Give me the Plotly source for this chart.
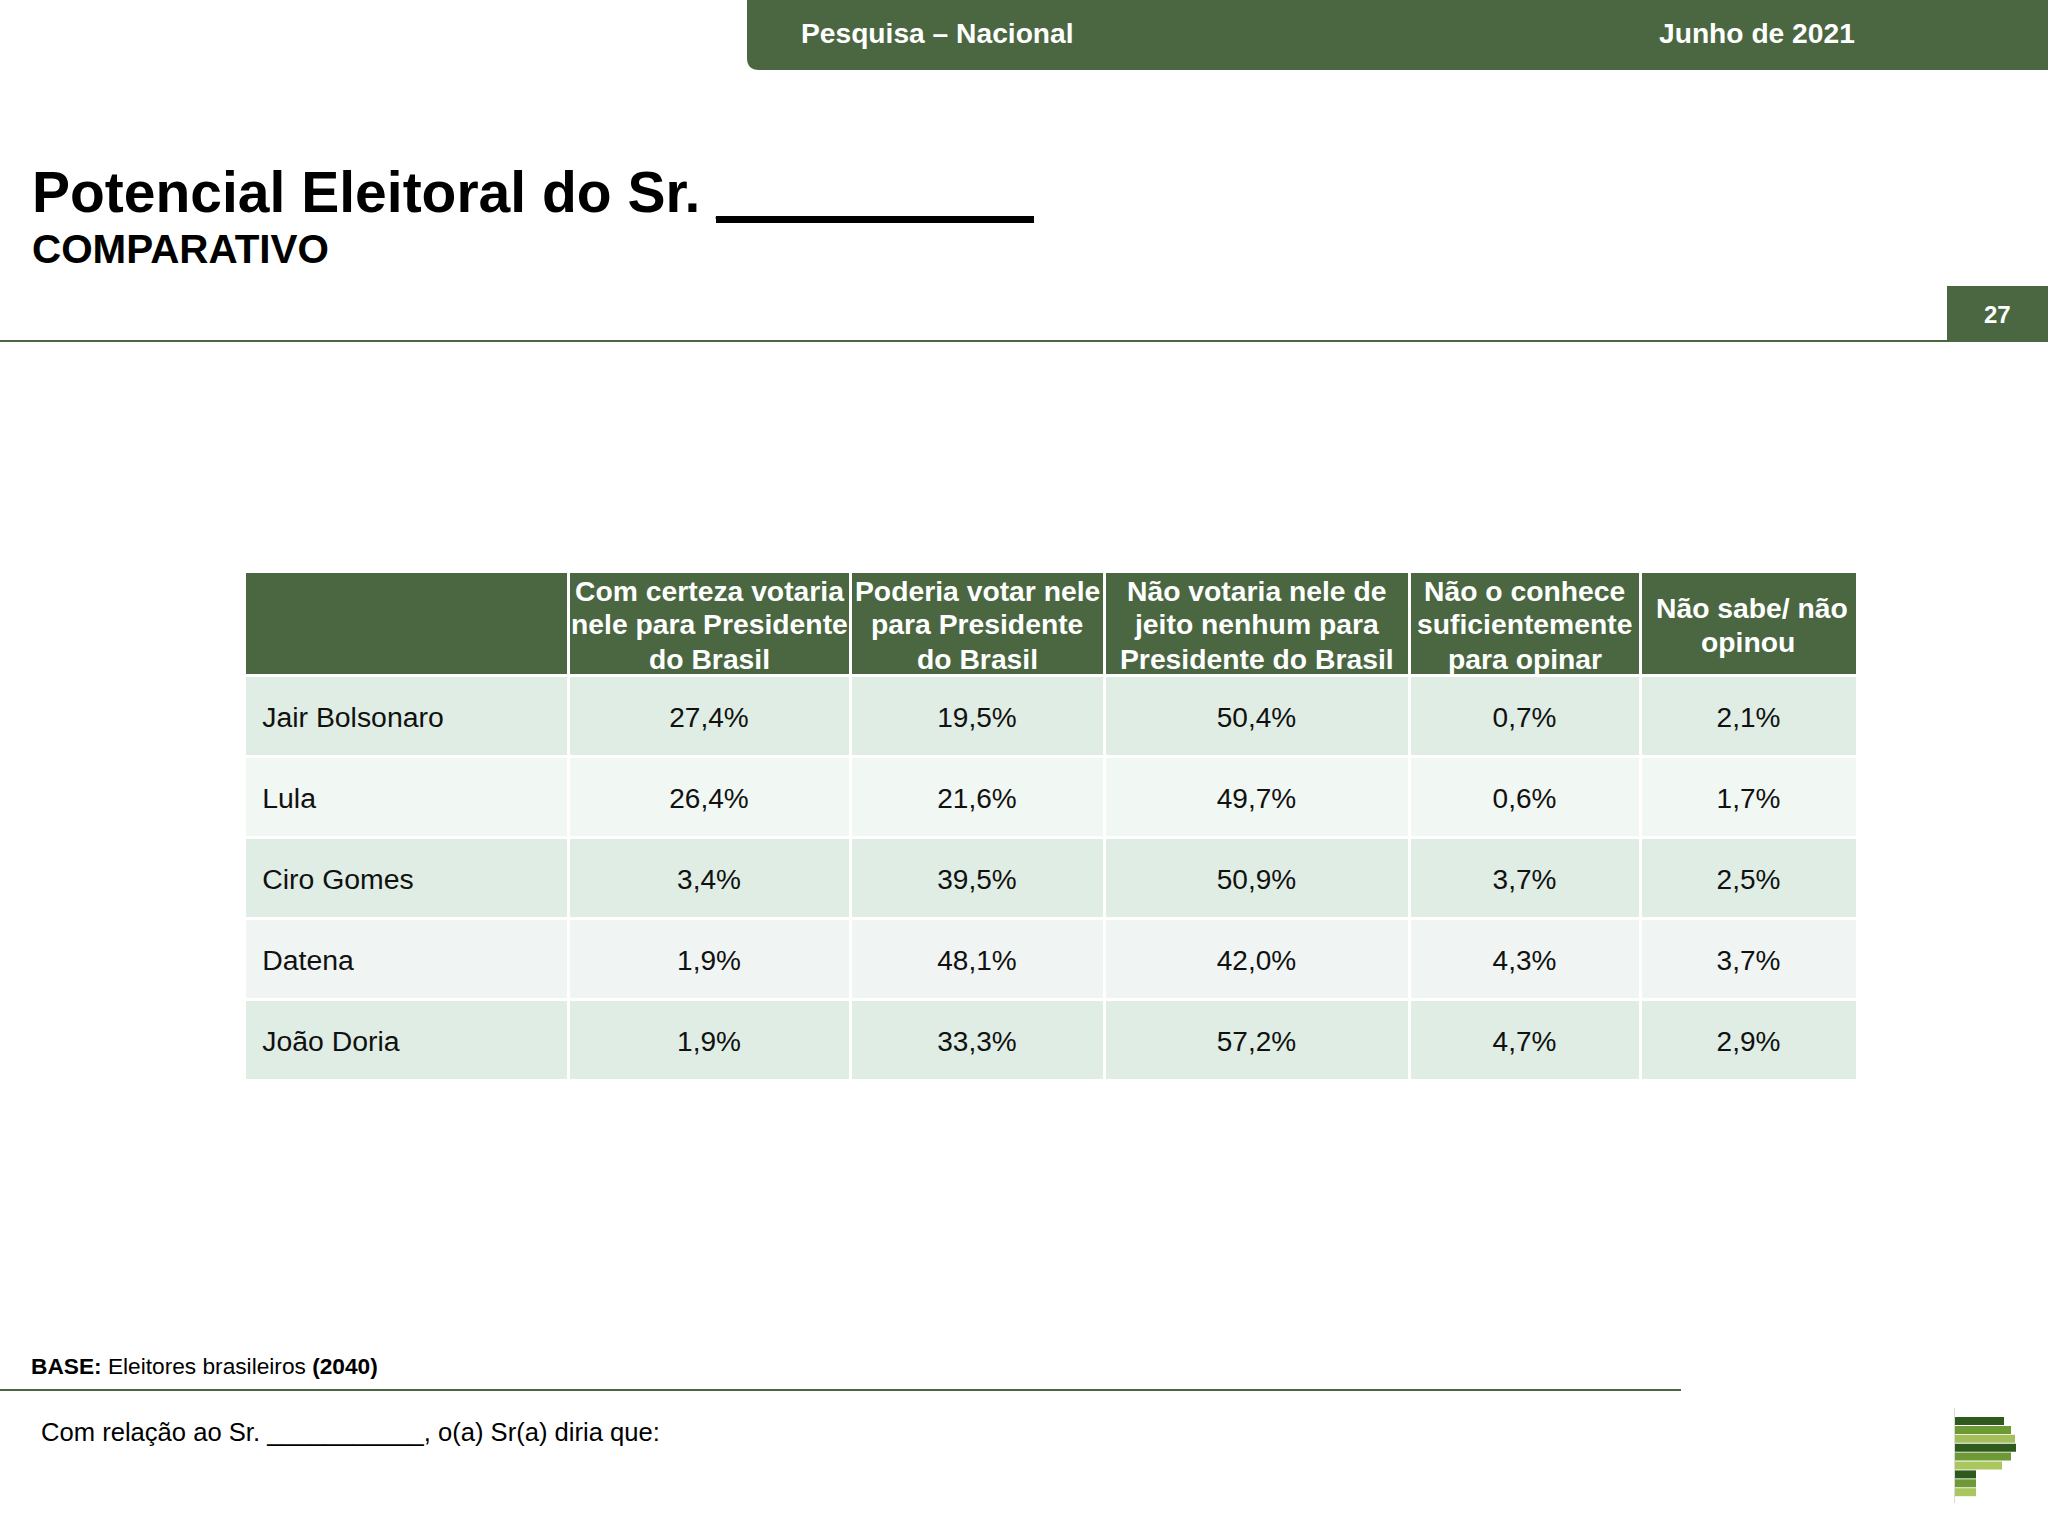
import plotly.graph_objects as go

candidates = ["Jair Bolsonaro", "Lula", "Ciro Gomes", "Datena", "João Doria"]
certeza = ["27,4%", "26,4%", "3,4%", "1,9%", "1,9%"]
poderia = ["19,5%", "21,6%", "39,5%", "48,1%", "33,3%"]
nao_votaria = ["50,4%", "49,7%", "50,9%", "42,0%", "57,2%"]
nao_conhece = ["0,7%", "0,6%", "3,7%", "4,3%", "4,7%"]
nao_sabe = ["2,1%", "1,7%", "2,5%", "3,7%", "2,9%"]
headers = [
    [],
    ["Com certeza votaria", "nele para Presidente", "do Brasil"],
    ["Poderia votar nele", "para Presidente", "do Brasil"],
    ["Não votaria nele de", "jeito nenhum para", "Presidente do Brasil"],
    ["Não o conhece", "suficientemente", "para opinar"],
    ["Não sabe/ não", "opinou"],
]
col_edges = [244, 568, 850, 1104, 1409, 1640, 1857]
row_fills = ["#DFEDE4", "#F1F7F2", "#DFEDE4", "#F0F5F3", "#DFEDE4"]
GREEN = "#4A6741"
W, H = 2048, 1536
T_TOP, T_BOT, HEAD_H, ROW_H = 571, 1080, 104, 81
TEXT_DROP = 23


def px(x):
    return x / W


def py(y):
    return 1 - y / H


def label(x, y, text, size, bold=False, color="#000000", anchor="left"):
    t = f"<b>{text}</b>" if bold else text
    return dict(xref="paper", yref="paper", x=px(x), y=py(y), text=t, showarrow=False,
                xanchor=anchor, yanchor="middle", align=anchor, borderpad=0,
                font=dict(family="Liberation Sans", size=size, color=color))


def rect(x0, y0, x1, y1, color):
    return dict(type="rect", xref="paper", yref="paper", x0=px(x0), x1=px(x1), y0=py(y0), y1=py(y1),
                fillcolor=color, line=dict(width=0), layer="below")


widths = [b - a for a, b in zip(col_edges, col_edges[1:])]
blank = [[""] * len(candidates)] * 6
row_names = ["\u00a0\u200a" + c for c in candidates]

# Fills and rules of the table
fig = go.Figure(go.Table(
    domain=dict(x=[px(col_edges[0]), px(col_edges[-1])], y=[py(T_BOT), py(T_TOP)]),
    columnwidth=widths,
    header=dict(values=[""] * 6, height=HEAD_H, fill_color=GREEN, line=dict(color="white", width=3)),
    cells=dict(values=blank, height=ROW_H, fill_color=[row_fills] * 6, line=dict(color="white", width=3)),
))
# Cell text, dropped so it sits at the middle of each row
fig.add_trace(go.Table(
    domain=dict(x=[px(col_edges[0]), px(col_edges[-1])], y=[py(T_BOT + TEXT_DROP), py(T_TOP + TEXT_DROP)]),
    columnwidth=widths,
    header=dict(values=[""] * 6, height=HEAD_H, fill_color="rgba(0,0,0,0)", line=dict(color="rgba(0,0,0,0)", width=0)),
    cells=dict(
        values=[row_names, certeza, poderia, nao_votaria, nao_conhece, nao_sabe],
        height=ROW_H,
        fill_color="rgba(0,0,0,0)",
        line=dict(color="rgba(0,0,0,0)", width=0),
        align=["left"] + ["center"] * 5,
        font=dict(family="Liberation Sans", size=[28.4] + [28] * 5, color="#111111"),
    ),
))

ann = [
    label(800, 33, "Pesquisa – Nacional", 28.2, True, "white"),
    label(1658, 33, "Junho de 2021", 28.2, True, "white"),
    label(31, 192, "Potencial Eleitoral do Sr. __________", 57, True),
    label(31, 249, "COMPARATIVO", 40.4, True),
    label(1997, 314, "27", 24, True, "white", "center"),
    label(30, 1366, "<b>BASE:</b> Eleitores brasileiros <b>(2040)</b>", 22.7),
    label(40, 1432, "Com relação ao Sr. ___________, o(a) Sr(a) diria que:", 25.6),
]
for i, lines in enumerate(headers):
    cx = (col_edges[i] + col_edges[i + 1]) / 2 if i else 0
    start = 624.5 - (len(lines) - 1) * 17
    for j, line in enumerate(lines):
        nudge = 3 if line == "Não sabe/ não" else (-1 if line == "opinou" else 0)
        ann.append(label(cx + nudge, start + j * 34, line, 28.3, True, "white", "center"))

shapes = [
    dict(type="path", xref="paper", yref="paper",
         path=f"M {px(747)} {py(0)} L {px(747)} {py(58)} Q {px(747)} {py(70)} {px(759)} {py(70)} "
              f"L {px(2048)} {py(70)} L {px(2048)} {py(0)} Z",
         fillcolor=GREEN, line=dict(width=0)),
    rect(1947, 286, 2048, 341, GREEN),
    rect(0, 340, 2048, 342, GREEN),
    rect(0, 1389, 1681, 1391, GREEN),
    dict(type="rect", xref="paper", yref="paper", x0=px(716), x1=px(1034), y0=py(216), y1=py(223),
         fillcolor="#000000", line=dict(width=0)),
]
logo_widths = [49, 56, 60, 61, 56, 47, 21, 21, 21]
logo_colors = ["#2F5A1E", "#6E9A35", "#A3BE5A", "#2F5A1E", "#6E9A35", "#A9C65F", "#2F5A1E", "#6E9A35", "#A9C65F"]
shapes.append(rect(1954, 1408, 1955, 1503, "#D8DCD8"))
for i, (w, c) in enumerate(zip(logo_widths, logo_colors)):
    top = 1417 + i * 8.9
    shapes.append(rect(1955, top, 1955 + w, top + 8, c))

fig.update_layout(width=W, height=H, margin=dict(l=0, r=0, t=0, b=0), paper_bgcolor="white",
                  annotations=ann, shapes=shapes, showlegend=False,
                  font=dict(family="Liberation Sans"))
fig.write_html("out.html", config=dict(displayModeBar=False),
               post_script="document.body.style.margin='0';")
